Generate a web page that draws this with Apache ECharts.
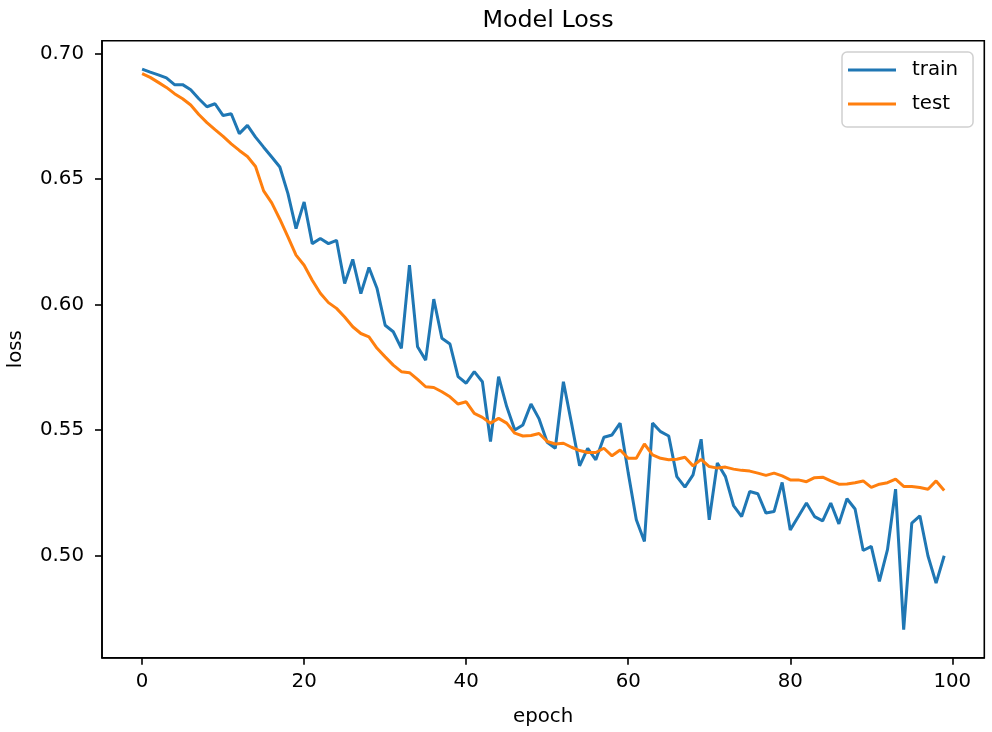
<!DOCTYPE html>
<html>
<head>
<meta charset="utf-8">
<script src="https://cdn.jsdelivr.net/npm/echarts@6/dist/echarts.min.js"></script>
<style>
html,body{margin:0;padding:0;background:#fff;}
#chart{width:992px;height:732px;}
</style>
</head>
<body>
<div id="chart"></div>
<script>
const train = [
0.6938,0.6926,0.6915,0.6903,0.6876,0.6876,0.6856,0.6820,0.6788,0.6800,
0.6753,0.6760,0.6681,0.6714,0.6667,0.6627,0.6588,0.6548,0.6442,0.6303,
0.6409,0.6243,0.6263,0.6243,0.6256,0.6084,0.6180,0.6044,0.6148,0.6064,
0.5918,0.5892,0.5826,0.6157,0.5832,0.5779,0.6022,0.5866,0.5843,0.5713,
0.5687,0.5733,0.5693,0.5455,0.5713,0.5594,0.5501,0.5521,0.5604,0.5545,
0.5452,0.5428,0.5693,0.5528,0.5358,0.5428,0.5382,0.5472,0.5481,0.5528,
0.5330,0.5143,0.5057,0.5528,0.5494,0.5477,0.5315,0.5273,0.5322,0.5464,
0.5143,0.5369,0.5315,0.5200,0.5156,0.5256,0.5247,0.5170,0.5176,0.5292,
0.5103,0.5156,0.5210,0.5156,0.5139,0.5210,0.5127,0.5227,0.5186,0.5021,
0.5037,0.4898,0.5024,0.5265,0.4706,0.5130,0.5159,0.4999,0.4891,0.5000
];
const test = [
0.6920,0.6905,0.6885,0.6865,0.6840,0.6820,0.6795,0.6757,0.6725,0.6697,
0.6670,0.6640,0.6614,0.6590,0.6550,0.6453,0.6405,0.6340,0.6270,0.6197,
0.6157,0.6097,0.6045,0.6008,0.5985,0.5951,0.5912,0.5885,0.5872,0.5826,
0.5792,0.5759,0.5733,0.5729,0.5702,0.5673,0.5670,0.5653,0.5633,0.5604,
0.5613,0.5567,0.5551,0.5528,0.5547,0.5528,0.5488,0.5477,0.5479,0.5487,
0.5455,0.5445,0.5448,0.5432,0.5419,0.5411,0.5411,0.5428,0.5398,0.5421,
0.5388,0.5388,0.5445,0.5402,0.5388,0.5382,0.5384,0.5392,0.5358,0.5384,
0.5355,0.5349,0.5353,0.5345,0.5340,0.5337,0.5329,0.5320,0.5329,0.5318,
0.5302,0.5302,0.5295,0.5311,0.5313,0.5298,0.5285,0.5286,0.5291,0.5298,
0.5272,0.5285,0.5291,0.5305,0.5276,0.5276,0.5272,0.5265,0.5298,0.5260
];
const xTicks = [0, 20, 40, 60, 80, 100];
const yTicks = [0.50, 0.55, 0.60, 0.65, 0.70];

const FONT = 'DejaVu Sans';
const chart = echarts.init(document.getElementById('chart'), null, {renderer: 'canvas'});
const lineAxis = {show: true, onZero: false, lineStyle: {color: '#000', width: 1.6}};
const tickStyle = {show: true, inside: false, length: 7, lineStyle: {color: '#000', width: 1.6}};
const nameStyle = {fontFamily: FONT, fontSize: 19.8, color: '#000'};
chart.setOption({
  animation: false,
  backgroundColor: '#fff',
  title: {
    text: 'Model Loss', left: 543, top: 4, textAlign: 'center',
    textStyle: {fontFamily: FONT, fontSize: 23.8, fontWeight: 'normal', color: '#000'}
  },
  legend: {
    data: ['train', 'test'], orient: 'vertical', left: 842, top: 52,
    icon: 'rect', itemWidth: 48, itemHeight: 3, itemGap: 14,
    padding: [8, 15, 13, 6],
    borderColor: '#d0d0d0', borderWidth: 1.5, borderRadius: 5,
    backgroundColor: 'rgba(255,255,255,0.8)',
    textStyle: {fontFamily: FONT, fontSize: 19.8, lineHeight: 20, color: '#000', padding: [0, 0, 0, 11]}
  },
  grid: {
    left: 102, right: 7.7, top: 40.7, bottom: 74.3,
    show: true, borderColor: '#000', borderWidth: 1.6,
    containLabel: false, outerBoundsMode: 'none'
  },
  xAxis: {
    type: 'value', min: -4.95, max: 103.95,
    name: 'epoch', nameLocation: 'middle', nameGap: 49, nameTextStyle: nameStyle,
    axisLine: lineAxis, splitLine: {show: false},
    axisTick: Object.assign({}, tickStyle, {customValues: xTicks}),
    axisLabel: {customValues: xTicks, margin: 14, fontFamily: FONT, fontSize: 19.8, color: '#000',
      formatter: v => String(v)}
  },
  yAxis: {
    type: 'value', min: 0.4594, max: 0.7051,
    name: 'loss', nameLocation: 'middle', nameGap: 76, nameRotate: 90, nameTextStyle: nameStyle,
    axisLine: lineAxis, splitLine: {show: false},
    axisTick: Object.assign({}, tickStyle, {customValues: yTicks}),
    axisLabel: {customValues: yTicks, margin: 18, fontFamily: FONT, fontSize: 19.8, color: '#000',
      formatter: v => v.toFixed(2)}
  },
  series: [
    {name: 'train', type: 'line', data: train.map((v, i) => [i, v]), symbol: 'none', showSymbol: false,
     lineStyle: {color: '#1f77b4', width: 3}, itemStyle: {color: '#1f77b4'}},
    {name: 'test', type: 'line', data: test.map((v, i) => [i, v]), symbol: 'none', showSymbol: false,
     lineStyle: {color: '#ff7f0e', width: 3}, itemStyle: {color: '#ff7f0e'}}
  ]
});
</script>
</body>
</html>
